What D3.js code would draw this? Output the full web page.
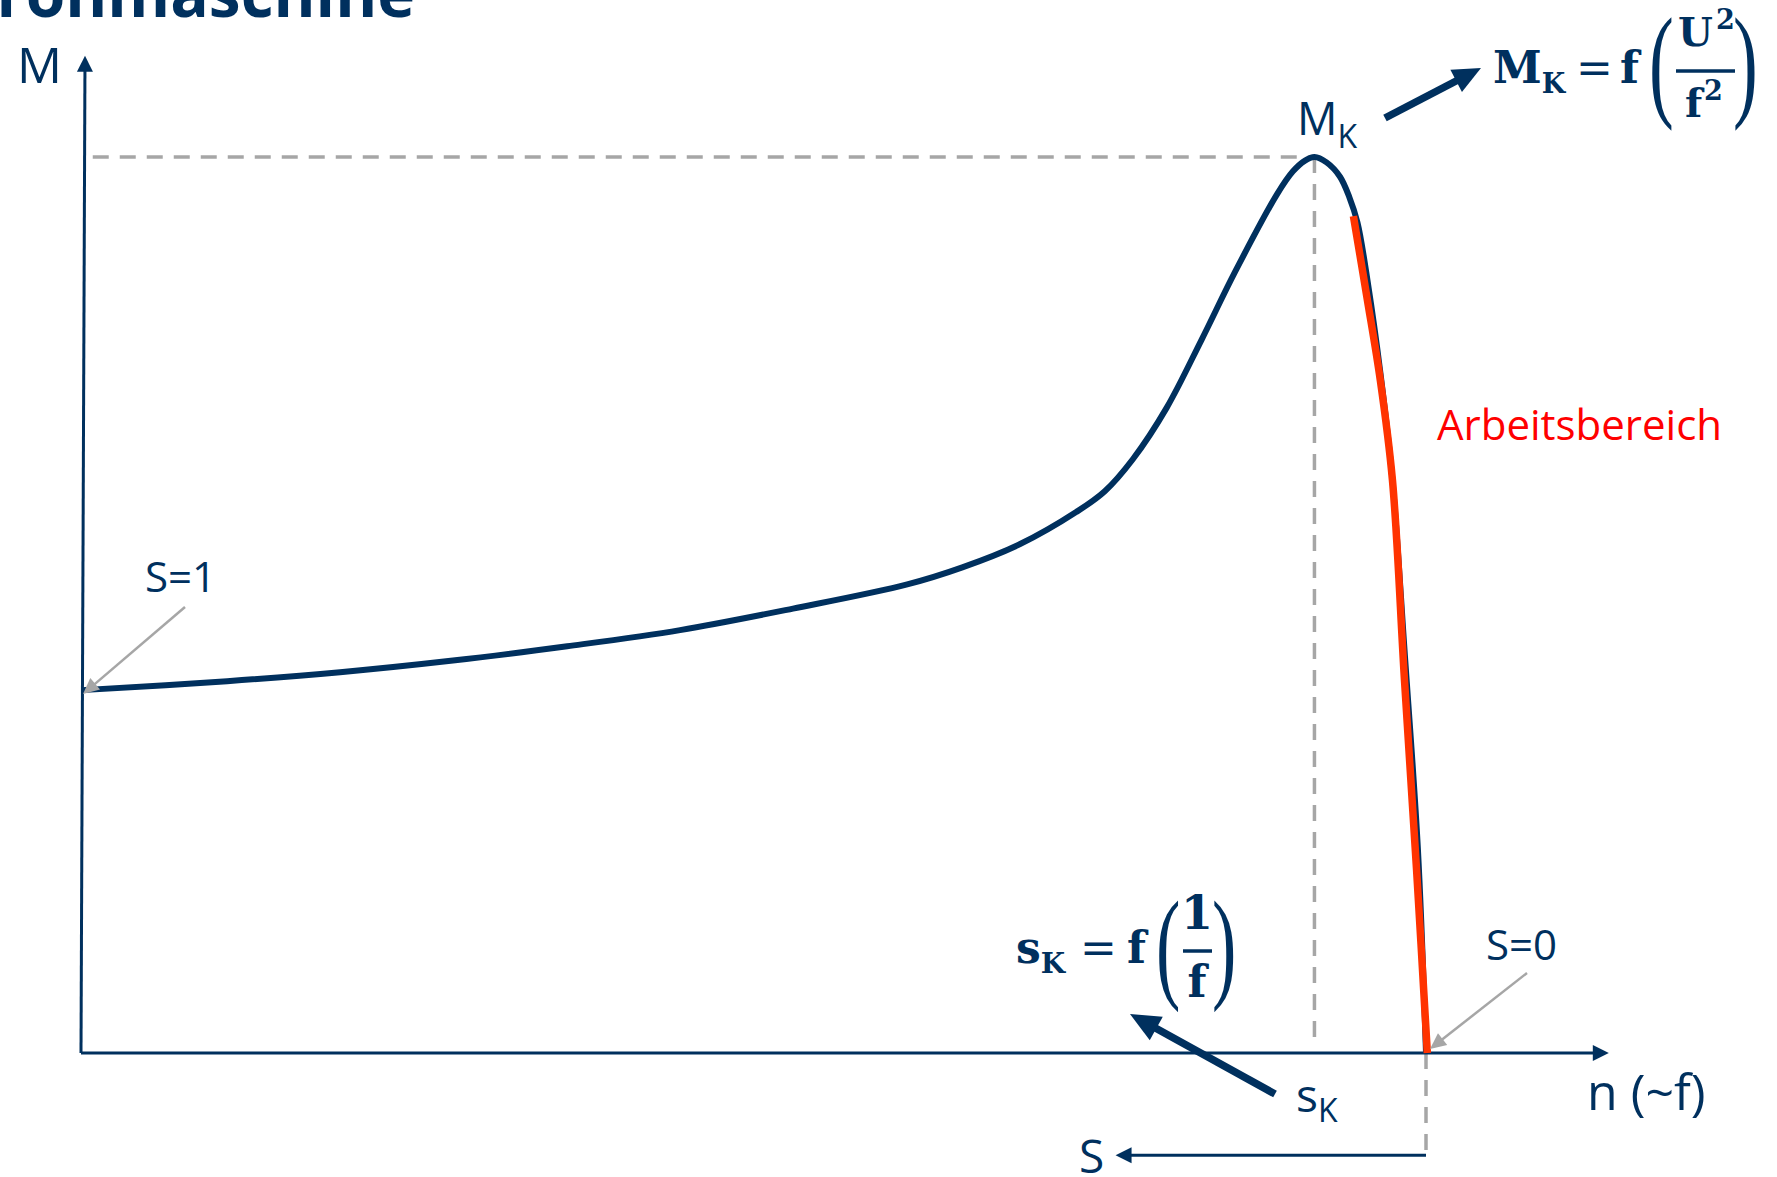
<!DOCTYPE html>
<html>
<head>
<meta charset="utf-8">
<script src="https://cdn.jsdelivr.net/npm/d3@7"></script>
<style>
  html, body { margin: 0; padding: 0; background: #fff; overflow: hidden; }
  svg { display: block; font-family: "Open Sans", sans-serif; }
</style>
</head>
<body>
<svg id="chart" width="1777" height="1177"></svg>
<script>
/* Torque / speed curve of an induction machine.
 * speed n is relative to synchronous speed (1 = slip 0),
 * torque M is relative to the breakdown torque M_K. */
const speed = [0, 0.108, 0.192, 0.276, 0.361, 0.445, 0.529, 0.614, 0.655, 0.698,
  0.740, 0.761, 0.782, 0.807, 0.833, 0.858, 0.889, 0.901, 0.910, 0.917,
  0.926, 0.936, 0.943, 0.949, 0.957, 0.966, 0.975, 0.984, 0.994, 1.0];
const torque = [0.405, 0.415, 0.425, 0.438, 0.454, 0.472, 0.496, 0.523, 0.542, 0.568,
  0.604, 0.627, 0.663, 0.720, 0.796, 0.872, 0.958, 0.984, 0.996, 1.0,
  0.994, 0.978, 0.955, 0.927, 0.857, 0.760, 0.640, 0.450, 0.227, 0];

// stable working range (highlighted in red)
const workSpeed = [0.946, 0.956, 0.966, 0.975, 0.984, 0.993, 1.001];
const workTorque = [0.934, 0.844, 0.751, 0.640, 0.416, 0.204, 0];

// how far the axes reach beyond the data
const axisMax = {n: 1.136, M: 1.113};
const slipAxis = {from: 1, to: 0.769, M: -0.114};

const navy = "#00305e";
const grey = "#a6a6a6";
const red = "#ff3300";

const svg = d3.select("#chart");

const x = d3.scaleLinear().domain([0, 1]).range([82, 1426]);
const y = d3.scaleLinear().domain([0, 1]).range([1053, 157]);

const curve = speed.map((n, i) => ({n: n, M: torque[i]}));
const work = workSpeed.map((n, i) => ({n: n, M: workTorque[i]}));
const peak = curve[d3.maxIndex(curve, (d) => d.M)];

/** arrow from (x1,y1) to the tip (x2,y2) with a filled triangular head */
function arrow(x1, y1, x2, y2, color, width, headLen, headWid) {
  const len = Math.hypot(x2 - x1, y2 - y1);
  const ux = (x2 - x1) / len;
  const uy = (y2 - y1) / len;
  const bx = x2 - ux * headLen;
  const by = y2 - uy * headLen;
  svg.append("line")
    .attr("x1", x1).attr("y1", y1)
    .attr("x2", bx + ux).attr("y2", by + uy)
    .attr("stroke", color)
    .attr("stroke-width", width);
  const h = headWid / 2;
  svg.append("path")
    .attr("d", `M${x2},${y2}L${bx - uy * h},${by + ux * h}L${bx + uy * h},${by - ux * h}Z`)
    .attr("fill", color);
}

// title of the slide, cut by the top edge
svg.append("text")
  .attr("x", 415).attr("y", 17)
  .attr("text-anchor", "end")
  .attr("font-size", 64).attr("font-weight", 700)
  .attr("fill", navy)
  .text("Asynchronmaschine");

// guide lines to the breakdown point
const dashed = (x1, y1, x2, y2) => svg.append("line")
  .attr("x1", x1).attr("y1", y1).attr("x2", x2).attr("y2", y2)
  .attr("stroke", grey).attr("stroke-width", 3.5)
  .attr("stroke-dasharray", "16,11");
dashed(x(0.008), y(peak.M), x(peak.n), y(peak.M));
dashed(x(peak.n), y(peak.M), x(peak.n), y(0.011));
dashed(x(1), y(0), x(1), y(slipAxis.M));

// axes
arrow(x(0) - 1, y(0), x(0) + 3, y(axisMax.M), navy, 3, 16, 16);
arrow(x(0) - 1, y(0), x(axisMax.n), y(0), navy, 3, 16, 16);
// slip axis below, pointing to the left
arrow(x(slipAxis.from), y(slipAxis.M), x(slipAxis.to), y(slipAxis.M), navy, 3, 16, 16);

const line = d3.line()
  .x((d) => x(d.n))
  .y((d) => y(d.M))
  .curve(d3.curveCatmullRom.alpha(0.5));

svg.append("path")
  .datum(curve)
  .attr("fill", "none")
  .attr("stroke", navy)
  .attr("stroke-width", 6)
  .attr("stroke-linejoin", "round")
  .attr("d", line);

svg.append("path")
  .datum(work)
  .attr("fill", "none")
  .attr("stroke", red)
  .attr("stroke-width", 7.5)
  .attr("d", line);

// grey pointers to S=1 and S=0
arrow(185, 607, x(0) + 1, y(torque[0]) + 4, grey, 2.5, 16, 15);
arrow(1527, 973, x(1) + 4, y(0) - 4, grey, 2.5, 16, 15);

// thick annotation arrows
arrow(1385, 118, 1481, 68, navy, 7.5, 28, 25);
arrow(1275, 1094, 1130, 1014, navy, 7.5, 30, 27);

/** plain text label */
function label(tx, ty, str, size, color, family) {
  return svg.append("text")
    .attr("x", tx).attr("y", ty)
    .attr("font-size", size)
    .attr("font-family", family || null)
    .attr("fill", color || navy)
    .text(str);
}

/** label with a subscript */
function subLabel(tx, ty, main, sub, size, subSize, subDy, family, weight) {
  const t = svg.append("text")
    .attr("x", tx).attr("y", ty)
    .attr("fill", navy)
    .attr("font-size", size)
    .attr("font-family", family || null)
    .attr("font-weight", weight || null);
  t.append("tspan").text(main);
  t.append("tspan").attr("font-size", subSize).attr("dy", subDy).text(sub);
  return t;
}

label(17, 83, "M", 50);
label(1587, 1110, "n (~f)", 50);
label(1079, 1173, "S", 46);
label(145, 592, "S=1", 42);
label(1486, 960, "S=0", 42);
label(1437, 440, "Arbeitsbereich", 42, "#ff0000");
subLabel(1297, 135, "M", "K", 45, 32, 13);
subLabel(1296, 1112, "s", "K", 46, 32, 10);

// formulas
const serif = "'DejaVu Serif', serif";

function paren(px, top, height, ch) {
  svg.append("text")
    .attr("transform", `translate(${px},${top + 0.79 * height}) scale(0.6,1)`)
    .attr("font-family", "'Liberation Serif', serif")
    .attr("font-size", height)
    .attr("fill", navy)
    .text(ch);
}

function bold(tx, ty, str, size, anchor) {
  svg.append("text")
    .attr("x", tx).attr("y", ty)
    .attr("font-family", serif)
    .attr("font-weight", 700)
    .attr("font-size", size)
    .attr("text-anchor", anchor || "start")
    .attr("fill", navy)
    .text(str);
}

function bar(x1, x2, by) {
  svg.append("line")
    .attr("x1", x1).attr("x2", x2).attr("y1", by).attr("y2", by)
    .attr("stroke", navy).attr("stroke-width", 3.5);
}

// M_K = f(U^2 / f^2)
subLabel(1493, 83, "M", "K", 44, 27, 10, serif, 700);
label(1576, 83, "=", 44, navy, serif);
bold(1620, 83, "f", 44);
paren(1649, 6, 124, "(");
bold(1678, 46, "U", 40);
bold(1716, 29, "2", 27);
bar(1676, 1735, 71);
bold(1685, 117, "f", 40);
bold(1704, 100, "2", 27);
paren(1733, 6, 124, ")");

// s_K = f(1 / f)
subLabel(1016, 963, "s", "K", 44, 28, 10, serif, 700);
label(1080, 963, "=", 44, navy, serif);
bold(1127, 963, "f", 44);
paren(1156, 890, 122, "(");
bold(1197, 929, "1", 46, "middle");
bar(1183, 1212, 951);
bold(1197, 997, "f", 44, "middle");
paren(1212, 890, 122, ")");
</script>
</body>
</html>
